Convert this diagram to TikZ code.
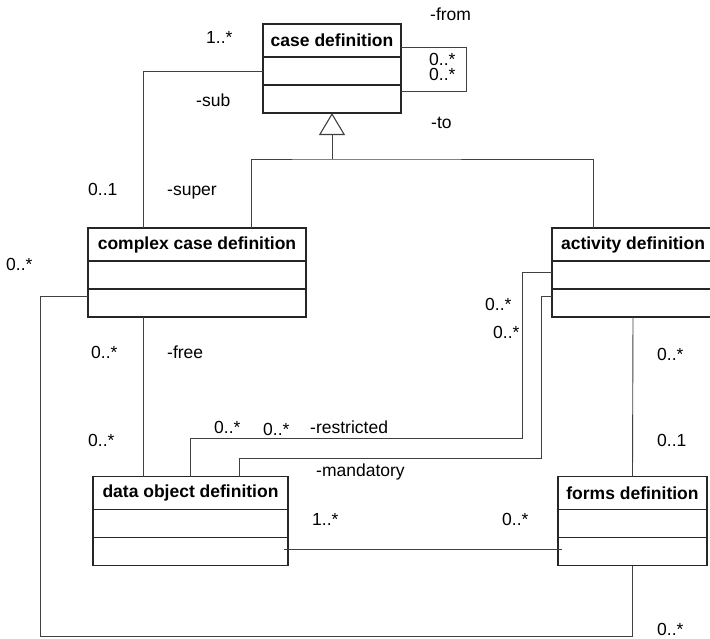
\documentclass[tikz,border=0pt]{standalone}
\usepackage{fontspec}
\setmainfont{Liberation Sans}
\usetikzlibrary{arrows.meta,positioning}

\begin{document}
\begin{tikzpicture}[x=1pt, y=-1pt,
  cls/.style={draw=black!85, line width=1.3pt, inner sep=0pt, outer sep=0pt, minimum height=28pt},
  ttl/.style={cls, minimum height=33pt, font=\fontsize{17.5}{20}\selectfont\bfseries},
  assoc/.style={line width=0.9pt, black!75},
  gen/.style={assoc, -{Triangle[open, length=22pt, width=26pt, line width=1.1pt]}},
  lbl/.style={anchor=base west, inner sep=0pt, font=\fontsize{17.5}{20}\selectfont}
]
\useasboundingbox (0,0) rectangle (710,638);
\node[ttl,minimum width=138pt] (case) at (332,40.5) {case definition};
\node[cls,minimum width=138pt,below=0pt of case] (caseA) {};
\node[cls,minimum width=138pt,below=0pt of caseA] (caseO) {};
\node[ttl,minimum width=218pt] (cplx) at (197,244.5) {complex case definition};
\node[cls,minimum width=218pt,below=0pt of cplx] (cplxA) {};
\node[cls,minimum width=218pt,below=0pt of cplxA] (cplxO) {};
\node[ttl,minimum width=162pt] (act) at (633,244.5) {activity definition};
\node[cls,minimum width=162pt,below=0pt of act] (actA) {};
\node[cls,minimum width=162pt,below=0pt of actA] (actO) {};
\node[ttl,minimum width=195pt] (dobj) at (190.5,493) {data object definition};
\node[cls,minimum width=195pt,below=0pt of dobj] (dobjA) {};
\node[cls,minimum width=195pt,below=0pt of dobjA] (dobjO) {};
\node[ttl,minimum width=149pt] (form) at (632.5,493) {forms definition};
\node[cls,minimum width=149pt,below=0pt of form] (formA) {};
\node[cls,minimum width=149pt,below=0pt of formA] (formO) {};
\coordinate (gbus) at (332,159);
\coordinate (rbend) at (522,438);
\coordinate (mbend) at (541,458);
\coordinate (lbend) at (40,636);
\draw[gen] (gbus) -- (caseO.south);
\draw[assoc] ([xshift=54pt]cplx.north) |- (gbus) -| ([xshift=-40pt]act.north);
\draw[assoc] (caseA.west) -| ([xshift=-54pt]cplx.north);
\draw[assoc] ([yshift=-6.5pt]case.east) -- ++(65,0) |- ([yshift=8pt]caseO.east);
\draw[assoc] ([xshift=-54pt]cplxO.south) -- ([xshift=-47.5pt]dobj.north);
\draw[assoc] ([yshift=7pt]cplxO.west) -| (lbend) -| (formO.south);
\draw[assoc] (dobj.north) |- (rbend) |- ([yshift=3pt]actA.west);
\draw[assoc] ([xshift=48.5pt]dobj.north) |- (mbend) |- ([yshift=7pt]actO.west);
\draw[assoc] (actO.south) -- (form.north);
\draw[assoc] ([xshift=-4pt,yshift=2pt]dobjO.east) -- ([xshift=4pt,yshift=2pt]formO.west);
\node[lbl] (mSub) at (206,43) {1..*};
\node[lbl] (rFrom) at (430,20) {-from};
\node[lbl,align=left,font=\fontsize{17.5}{15}\selectfont] (mFromTo) at (429,80) {0..*\\0..*};
\node[lbl] (rSub) at (196,106) {-sub};
\node[lbl] (rTo) at (431,128) {-to};
\node[lbl] (mSuper) at (88,195) {0..1};
\node[lbl] (rSuper) at (167,195) {-super};
\node[lbl] (mLoopC) at (6,270) {0..*};
\node[lbl] (mFreeC) at (91,358) {0..*};
\node[lbl] (rFree) at (167,358) {-free};
\node[lbl] (mFreeD) at (88,446) {0..*};
\node[lbl] (mRestrA) at (485,310) {0..*};
\node[lbl] (mMandA) at (493,338) {0..*};
\node[lbl] (mFormA) at (657,360) {0..*};
\node[lbl] (mRestrD) at (214,433) {0..*};
\node[lbl] (mMandD) at (263,435) {0..*};
\node[lbl] (rRestr) at (310,433) {-restricted};
\node[lbl] (rMand) at (316,476) {-mandatory};
\node[lbl] (mFormF) at (657,446) {0..1};
\node[lbl] (mDataF) at (312,525) {1..*};
\node[lbl] (mFormsD) at (502,525) {0..*};
\node[lbl] (mLoopF) at (657,635) {0..*};
\end{tikzpicture}
\end{document}
